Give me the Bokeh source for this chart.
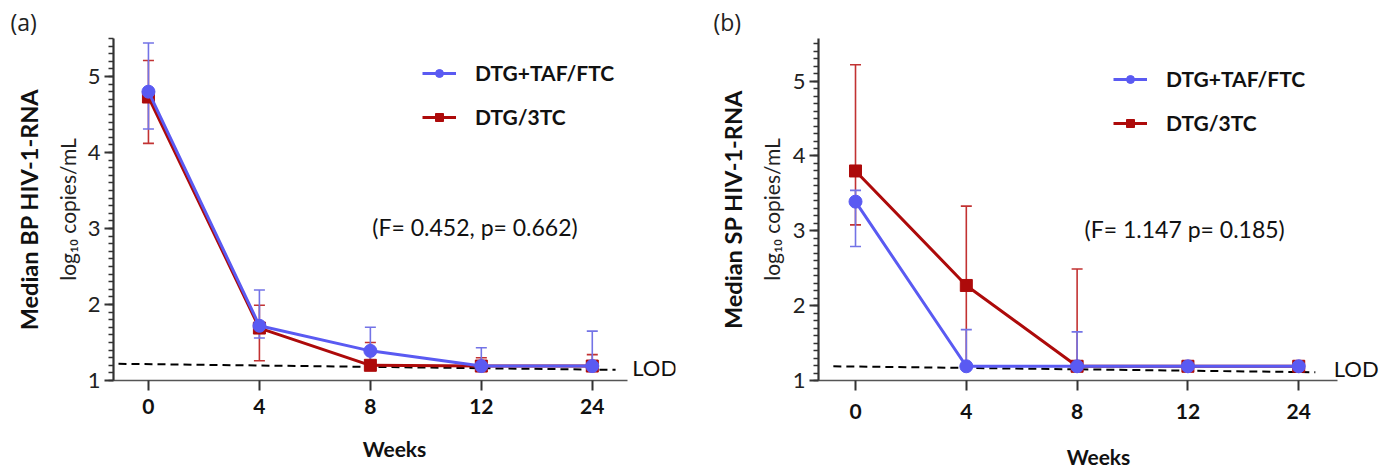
from bokeh.plotting import figure
from bokeh.layouts import row
from bokeh.models import (ColumnDataSource, Whisker, TeeHead, FixedTicker, Label,
                          Legend, LegendItem, Title)
from bokeh.embed import file_html
from bokeh.resources import INLINE

# ---------------- data ----------------
weeks = ["0", "4", "8", "12", "24"]
series_names = ["DTG+TAF/FTC", "DTG/3TC"]

a_taf_med = [4.80, 1.72, 1.39, 1.19, 1.19]
a_taf_hi = [5.44, 2.19, 1.70, 1.43, 1.65]
a_taf_lo = [4.31, 1.56, 1.20, 1.19, 1.19]
a_3tc_med = [4.73, 1.69, 1.20, 1.19, 1.19]
a_3tc_hi = [5.21, 1.99, 1.50, 1.30, 1.34]
a_3tc_lo = [4.12, 1.26, 1.20, 1.19, 1.19]

b_taf_med = [3.39, 1.19, 1.19, 1.19, 1.19]
b_taf_hi = [3.54, 1.68, 1.65, 1.19, 1.19]
b_taf_lo = [2.79, 1.19, 1.19, 1.19, 1.19]
b_3tc_med = [3.80, 2.27, 1.19, 1.19, 1.19]
b_3tc_hi = [5.22, 3.33, 2.49, 1.19, 1.19]
b_3tc_lo = [3.08, 1.19, 1.19, 1.19, 1.19]

lod_a_x = [-0.27, 4.21]
lod_a_y = [1.22, 1.14]
lod_b_x = [-0.20, 4.15]
lod_b_y = [1.19, 1.11]

stats_a = "(F= 0.452, p= 0.662)"
stats_b = "(F= 1.147 p= 0.185)"
y_unit = "log\u2081\u2080 copies/mL"

BLUE = "#5a5af2"
BLUE_ERR = "#7373e6"
RED = "#ad0a0a"
RED_ERR = "#c23232"
FONT = "Lato"
AX = "#333333"


def panel(tag, ytitle, taf, threc, lod_x, lod_y, stats, c):
    p = figure(width=c["w"], height=471, x_range=c["xr"], y_range=c["yr"],
               output_backend="svg", toolbar_location=None,
               min_border_left=c["bl"], min_border_right=c["br"],
               min_border_top=c["bt"], min_border_bottom=c["bb"])
    p.outline_line_color = None
    p.xgrid.visible = False
    p.ygrid.visible = False

    xs = list(range(len(weeks)))
    for (med, hi, lo), ecol in ((threc, RED_ERR), (taf, BLUE_ERR)):
        src = ColumnDataSource(dict(x=xs, hi=hi, lo=lo))
        p.add_layout(Whisker(base="x", upper="hi", lower="lo", source=src,
                             line_color=ecol, line_width=1.6,
                             upper_head=TeeHead(size=11, line_color=ecol, line_width=1.6),
                             lower_head=TeeHead(size=11, line_color=ecol, line_width=1.6)))

    p.line(lod_x, lod_y, line_color="black", line_width=2, line_dash="8 5")

    r_line = p.line(xs, threc[0], line_color=RED, line_width=3)
    r_pt = p.scatter(xs, threc[0], marker="square", size=12, fill_color=RED, line_color=RED)
    b_line = p.line(xs, taf[0], line_color=BLUE, line_width=3)
    b_pt = p.scatter(xs, taf[0], marker="circle", size=13, fill_color=BLUE, line_color=BLUE)

    legend = Legend(items=[LegendItem(label=series_names[0], renderers=[b_line, b_pt]),
                           LegendItem(label=series_names[1], renderers=[r_line, r_pt])],
                    location=c["legloc"], border_line_alpha=0, background_fill_alpha=0,
                    label_text_font=FONT, label_text_font_style="bold",
                    label_text_font_size="21px", label_text_color="#111111",
                    glyph_width=34, glyph_height=20, label_height=20,
                    spacing=19, padding=0, margin=0, label_standoff=19)
    p.add_layout(legend)

    # x axis
    p.xaxis.ticker = FixedTicker(ticks=xs)
    p.xaxis.bounds = c["xbounds"]
    p.xaxis.major_label_overrides = {i: w for i, w in enumerate(weeks)}
    p.xaxis.major_label_text_font = FONT
    p.xaxis.major_label_text_font_style = "bold"
    p.xaxis.major_label_text_font_size = "21px"
    p.xaxis.major_label_text_color = "#111111"
    p.xaxis.major_tick_out = 10
    p.xaxis.major_tick_in = 0
    p.xaxis.minor_tick_out = 0
    p.xaxis.major_tick_line_width = 2
    p.xaxis.axis_line_width = 1.6
    p.xaxis.axis_line_color = "#555555"
    p.xaxis.major_tick_line_color = AX
    p.xaxis.major_label_standoff = c["s1"]
    p.xaxis.axis_label = "Weeks"
    p.xaxis.axis_label_text_font = FONT
    p.xaxis.axis_label_text_font_style = "bold"
    p.xaxis.axis_label_text_font_size = "21px"
    p.xaxis.axis_label_text_color = "#111111"
    p.xaxis.axis_label_standoff = c["s2"]

    # y axis
    minor = [round(1 + 0.1 * k, 2) for k in range(0, 46)]
    p.yaxis.ticker = FixedTicker(ticks=[1, 2, 3, 4, 5], minor_ticks=minor)
    p.yaxis.major_label_text_font = FONT
    p.yaxis.major_label_text_font_size = "22px"
    p.yaxis.major_label_text_color = "#222222"
    p.yaxis.major_tick_out = 9
    p.yaxis.major_tick_in = 0
    p.yaxis.minor_tick_out = 5
    p.yaxis.minor_tick_in = 0
    p.yaxis.major_tick_line_width = 2
    p.yaxis.minor_tick_line_width = 1.5
    p.yaxis.axis_line_width = 2.2
    p.yaxis.axis_line_color = AX
    p.yaxis.major_tick_line_color = AX
    p.yaxis.minor_tick_line_color = AX
    p.yaxis.major_label_standoff = 4

    # y titles in the left panel (first added sits nearest the axis)
    p.add_layout(Title(text=y_unit, align="center", text_font=FONT,
                       text_font_size="21px", text_font_style="normal",
                       text_color="#222222", standoff=c["ts"]), "left")
    p.add_layout(Title(text=ytitle, align="center", text_font=FONT,
                       text_font_size="23.5px", text_font_style="bold",
                       text_color="#111111", standoff=9), "left")
    # panel tag above
    p.add_layout(Title(text=tag, align="left", offset=c["tagoff"], text_font="Open Sans",
                       text_font_size="23px", text_font_style="normal",
                       text_color="#222222", standoff=2), "above")

    x0, dx, y1, dy = c["x0px"], c["dxpx"], c["y1px"], c["dypx"]
    px = lambda v: (v - x0) / dx
    py = lambda v: 1 + (y1 - v) / dy

    p.add_layout(Label(x=px(c["sx"]), y=py(228), text=stats, text_font=FONT,
                       text_font_size="23px", text_color="#111111",
                       text_baseline="middle", text_align="left"))
    p.add_layout(Label(x=px(c["lodx"]), y=py(c["lody"]), text="LOD", text_font=FONT,
                       text_font_size="22px", text_color="#111111",
                       text_baseline="middle", text_align="left"))
    return p


cfg_a = dict(w=708, xr=(-0.315, 4.75), yr=(1, 5.5), xbounds=(-0.315, 4.32),
             bl=113, br=33, bt=38, bb=88, s1=8, s2=19, ts=10,
             x0px=148, dxpx=111, y1px=383, dypx=76.5, legloc=(309, 251),
             tagoff=-103, sx=372, lodx=632, lody=370)
cfg_b = dict(w=678, xr=(-0.334, 4.72), yr=(1, 5.57), xbounds=(-0.334, 4.35),
             bl=110, br=8, bt=37, bb=91, s1=13, s2=22, ts=11,
             x0px=855, dxpx=110.75, y1px=380, dypx=75, legloc=(295, 245),
             tagoff=-105, sx=1084, lodx=1333, lody=368)

pa = panel("(a)", "Median BP HIV-1-RNA", (a_taf_med, a_taf_hi, a_taf_lo),
           (a_3tc_med, a_3tc_hi, a_3tc_lo), lod_a_x, lod_a_y, stats_a, cfg_a)
pb = panel("(b)", "Median SP HIV-1-RNA", (b_taf_med, b_taf_hi, b_taf_lo),
           (b_3tc_med, b_3tc_hi, b_3tc_lo), lod_b_x, lod_b_y, stats_b, cfg_b)

layout = row(pa, pb, spacing=0)
open("out.html", "w").write(file_html(layout, INLINE))
